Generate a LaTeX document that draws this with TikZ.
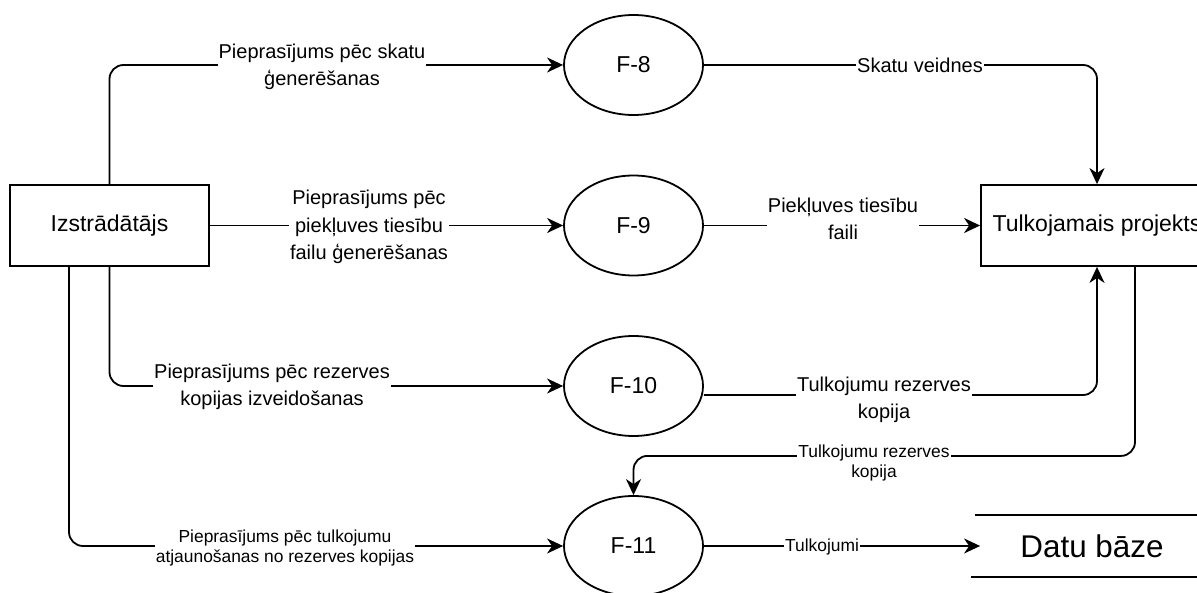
\documentclass[tikz,border=0pt]{standalone}
\usepackage{fontspec}
\setmainfont{Liberation Sans}
\usetikzlibrary{shapes.geometric,arrows.meta}
\begin{document}
\begin{tikzpicture}[x=1pt,y=-1pt,
  line width=1.8pt,
  entity/.style={draw, rectangle, inner sep=0pt, minimum height=81pt,
    font=\fontsize{23}{27}\selectfont},
  proc/.style={draw, ellipse, minimum width=139pt, minimum height=100pt,
    inner sep=0pt, font=\fontsize{23}{27}\selectfont},
  flow/.style={-{Stealth[length=16pt,width=15pt,inset=5pt]}, rounded corners=14pt},
  lbl/.style={fill=white, inner sep=1pt, align=center,
    font=\fontsize{20}{27.5}\selectfont},
  slbl/.style={fill=white, inner sep=1pt, align=center,
    font=\fontsize{17.4}{20.7}\selectfont},
]
\useasboundingbox (0,0) rectangle (1197,593);

% external entities and processes
\node[entity, minimum width=199pt] (dev) at (109.5,225.5) {Izstrādātājs};
\node[entity, minimum width=232pt] (proj) at (1097,225.5) {Tulkojamais projekts};
\node[proc] (f8)  at (633.5,65)  {F-8};
\node[proc] (f9)  at (633.5,225.5) {F-9};
\node[proc] (f10) at (633.5,386) {F-10};
\node[proc] (f11) at (633.5,546) {F-11};

% data store: text between two horizontal rules
\node[minimum width=222pt, minimum height=60pt, inner sep=0pt,
  font=\fontsize{31.4}{36}\selectfont] (store) at (1092,546) {Datu bāze};
\draw ([xshift=-5pt]store.north west) -- ([xshift=30pt]store.north east);
\draw ([xshift=-9pt]store.south west) -- ([xshift=30pt]store.south east);

% data flows
\draw[flow] (dev.north) |- (f8.west);
\draw[flow] (dev.east) -- (f9.west);
\draw[flow] (dev.south) |- (f10.west);
\draw[flow] ([xshift=-40.5pt]dev.south) |- (f11.west);
\draw[flow] (f8.east) -| (proj.north);
\draw[flow] (f9.east) -- (proj.west);
\draw[flow] ([yshift=-9pt]f10.east) -| (proj.south);
\draw[flow] ([xshift=38pt]proj.south) -- ++(0,189) -| (f11.north);
\draw[flow] (f11.east) -- (store.west);

% flow labels
\node[lbl] (q8)  at (322,67)  {Pieprasījums pēc skatu\\ģenerēšanas};
\node[lbl] (q9)  at (369,227) {Pieprasījums pēc\\piekļuves tiesību\\failu ģenerēšanas};
\node[lbl] (q10) at (272,387) {Pieprasījums pēc rezerves\\kopijas izveidošanas};
\node[slbl] (q11) at (285,548) {Pieprasījums pēc tulkojumu\\atjaunošanas no rezerves kopijas};
\node[lbl] (o8)  at (920,65)  {Skatu veidnes};
\node[lbl] (o9)  at (843,219) {Piekļuves tiesību\\faili};
\node[lbl] (o10) at (884,400) {Tulkojumu rezerves\\kopija};
\node[slbl] (i11) at (874,463) {Tulkojumu rezerves\\kopija};
\node[slbl] (o11) at (822,547) {Tulkojumi};
\end{tikzpicture}
\end{document}
